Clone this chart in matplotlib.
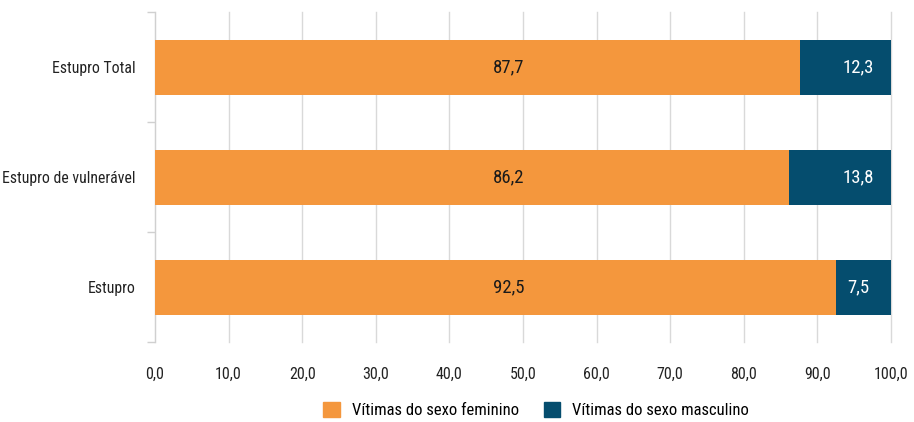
import matplotlib
matplotlib.use("Agg")
import matplotlib.pyplot as plt
from matplotlib.patches import Patch

plt.rcParams['font.family'] = ['Liberation Sans Narrow', 'DejaVu Sans Condensed', 'Roboto Condensed', 'Open Sans Condensed', 'DejaVu Sans']
plt.rcParams['font.stretch'] = 'condensed'

categorias = ["Estupro", "Estupro de vulnerável", "Estupro Total"]
feminino = [92.5, 86.2, 87.7]
masculino = [7.5, 13.8, 12.3]
xticks = [0, 10, 20, 30, 40, 50, 60, 70, 80, 90, 100]

# onde os rótulos de valor ficam no original (não centralizados no segmento)
pos_rotulo_fem = 48.0
pos_rotulo_masc = 95.6

cor_fem = "#F4973D"
cor_masc = "#054D6E"

fig = plt.figure(figsize=(9.14, 4.22), dpi=100)
ax = fig.add_axes([155 / 914, 1 - 342 / 422, (891 - 155) / 914, 330 / 422])

y = range(len(categorias))
ax.barh(y, feminino, height=0.5, color=cor_fem, zorder=3)
ax.barh(y, masculino, left=feminino, height=0.5, color=cor_masc, zorder=3)

def fmt(v):
    return f"{v:.1f}".replace(".", ",")

for i in y:
    ax.text(pos_rotulo_fem, i, fmt(feminino[i]), ha="center", va="center",
            fontsize=13.5, color="#1a1a1a", zorder=4)
    ax.text(pos_rotulo_masc, i, fmt(masculino[i]), ha="center",
            va="center", fontsize=13.5, color="white", zorder=4)

ax.set_xlim(0, 100)
ax.set_ylim(-0.5, 2.5)
ax.set_xticks(xticks)
ax.set_xticklabels([fmt(v) for v in xticks], fontsize=11.5, color="#222222")
ax.set_yticks(list(y))
ax.set_yticklabels(categorias, fontsize=11.3, color="#222222")
ax.set_yticks([-0.5, 0.5, 1.5, 2.5], minor=True)

ax.tick_params(axis="x", length=0, pad=18)
ax.tick_params(axis="y", which="major", length=0, pad=14)
ax.tick_params(axis="y", which="minor", length=6, color="#d0d0d0", width=1)

ax.grid(axis="x", color="#d9d9d9", linewidth=1, zorder=0)
for gl in ax.get_xgridlines():
    gl.set_clip_on(False)
for s in ["top", "right", "bottom"]:
    ax.spines[s].set_visible(False)
ax.spines["left"].set_color("#d0d0d0")

handles = [Patch(color=cor_fem, label="Vítimas do sexo feminino"),
           Patch(color=cor_masc, label="Vítimas do sexo masculino")]
fig.legend(handles=handles, loc="center", bbox_to_anchor=(536 / 914, 1 - 410 / 422),
           ncol=2, frameon=False, fontsize=12, handlelength=1.0, handleheight=1.0,
           columnspacing=1.5, handletextpad=0.7)

fig.savefig("out.png", dpi=100)
